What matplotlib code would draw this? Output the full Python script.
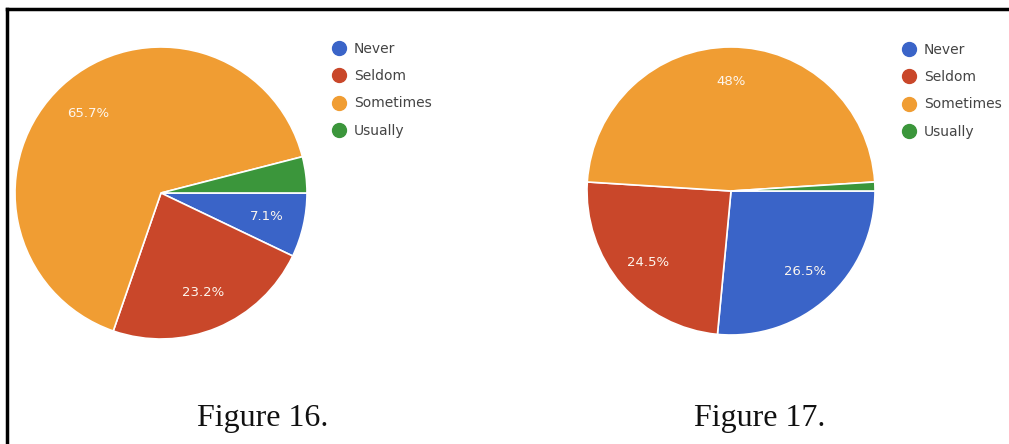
import matplotlib
matplotlib.use('Agg')
import matplotlib.pyplot as plt
from matplotlib.lines import Line2D

categories = ['Never', 'Seldom', 'Sometimes', 'Usually']
fig16_values = [7.1, 23.2, 65.7, 4.0]
fig16_labels = ['7.1%', '23.2%', '65.7%', '']
fig17_values = [26.5, 24.5, 48.0, 1.0]
fig17_labels = ['26.5%', '24.5%', '48%', '']
captions = ['Figure 16.', 'Figure 17.']

colors = ['#3a64c8', '#c9472a', '#f09d33', '#3b963b']

W, H = 1009, 444
fig = plt.figure(figsize=(W / 100, H / 100), dpi=100)


def pie_axes(cx, cy, r):
    # pixel centre/radius -> figure fraction box
    return fig.add_axes([(cx - r) / W, (H - cy - r) / H, 2 * r / W, 2 * r / H])


def draw_pie(ax, values, labels, ldist):
    wedges, texts = ax.pie(values, labels=labels, colors=colors, startangle=0,
                           counterclock=False, labeldistance=ldist,
                           wedgeprops=dict(edgecolor='white', linewidth=1.2),
                           textprops=dict(color='#fdf6ee', fontsize=9.5, ha='center', va='center'))
    ax.set_xlim(-1, 1)
    ax.set_ylim(-1, 1)
    ax.axis('off')
    return wedges


def add_legend(x, y):
    handles = [Line2D([], [], marker='o', linestyle='', markersize=10,
                      markerfacecolor=c, markeredgecolor=c) for c in colors]
    fig.legend(handles, categories, loc='upper left', bbox_to_anchor=(x / W, 1 - y / H),
               frameon=False, fontsize=10, labelspacing=0.95, handletextpad=0.45,
               handlelength=1.2, borderaxespad=0, borderpad=0, labelcolor='#444444')


ax1 = pie_axes(161, 193, 146)
draw_pie(ax1, fig16_values, fig16_labels, 0.74)
add_legend(331, 42)

ax2 = pie_axes(731, 191, 144)
draw_pie(ax2, fig17_values, fig17_labels, 0.76)
add_legend(901, 43)

fig.text(263 / W, 1 - 418 / H, captions[0], family='Liberation Serif', fontsize=23,
         ha='center', va='center', color='#111111')
fig.text(760 / W, 1 - 418 / H, captions[1], family='Liberation Serif', fontsize=23,
         ha='center', va='center', color='#111111')

# frame (only left and top edges visible in the crop)
fig.add_artist(Line2D([7 / W, 7 / W], [0, 1 - 9 / H], color='black', linewidth=2.5,
                      transform=fig.transFigure))
fig.add_artist(Line2D([7 / W, 1], [1 - 9 / H, 1 - 9 / H], color='black', linewidth=2.5,
                      transform=fig.transFigure))

fig.savefig('out.png', dpi=100)
